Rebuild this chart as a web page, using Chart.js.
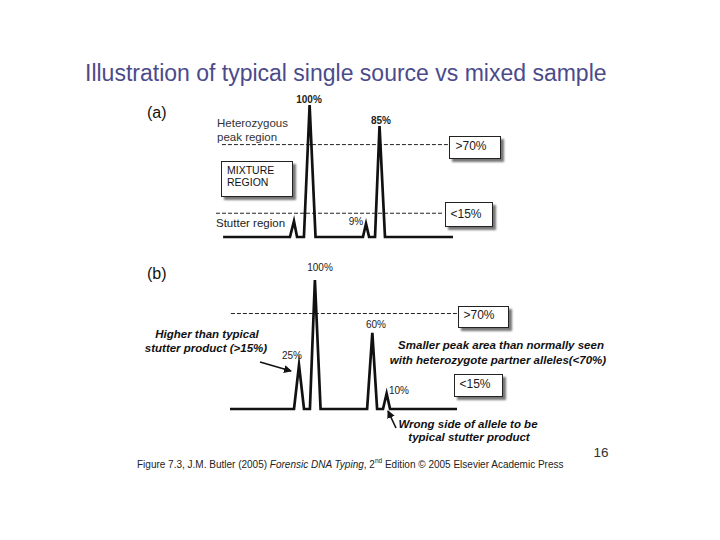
<!DOCTYPE html>
<html>
<head>
<meta charset="utf-8">
<script src="https://cdn.jsdelivr.net/npm/chart.js@4.4.1/dist/chart.umd.min.js"></script>
<style>
  body { margin: 0; background: #fff; font-family: "Liberation Sans", Arial, sans-serif; }
  #page { position: relative; width: 720px; height: 540px; overflow: hidden; }
  canvas { position: absolute; }
  .t { position: absolute; white-space: nowrap; line-height: 1; transform: translate(-50%, -50%); color: #1a1a1a; }
  .l { transform: translate(0, -50%); }
  .box { position: absolute; background: #fff; border: 1px solid #222; box-shadow: 3px 3px 2px #777; }
  .note { font-weight: bold; font-style: italic; font-size: 11.5px; color: #111; }
  .pct { font-size: 10px; color: #222; }
  svg { position: absolute; left: 0; top: 0; }
</style>
</head>
<body>
<div id="page">
  <div class="t l" style="left:85px;top:73px;font-size:23px;color:#4b4b8b;">Illustration of typical single source vs mixed sample</div>

  <!-- panel (a) -->
  <div class="t l" style="left:147px;top:113px;font-size:16px;color:#111;">(a)</div>
  <div class="t l" style="left:217px;top:124px;font-size:11.5px;color:#333;">Heterozygous</div>
  <div class="t l" style="left:217px;top:138px;font-size:11.5px;color:#333;">peak region</div>
  <div class="box" style="left:221px;top:161px;width:70px;height:34px;"></div>
  <div class="t l" style="left:227px;top:170px;font-size:10.5px;color:#111;">MIXTURE</div>
  <div class="t l" style="left:227px;top:182px;font-size:10.5px;color:#111;">REGION</div>
  <div class="t l" style="left:216px;top:224px;font-size:11.5px;color:#222;">Stutter region</div>
  <div class="box" style="left:449px;top:136px;width:50px;height:21px;"></div>
  <div class="t" style="left:471px;top:146px;font-size:12px;">&gt;70%</div>
  <div class="box" style="left:445px;top:202px;width:46px;height:23px;"></div>
  <div class="t" style="left:466px;top:214px;font-size:12px;">&lt;15%</div>
  <div class="t pct" style="left:309px;top:100px;font-weight:bold;">100%</div>
  <div class="t pct" style="left:381px;top:121px;font-weight:bold;">85%</div>
  <div class="t pct" style="left:356px;top:222px;">9%</div>

  <!-- panel (b) -->
  <div class="t l" style="left:147px;top:274px;font-size:16px;color:#111;">(b)</div>
  <div class="box" style="left:458px;top:306px;width:49px;height:20px;"></div>
  <div class="t" style="left:479px;top:315px;font-size:12px;">&gt;70%</div>
  <div class="box" style="left:454px;top:374px;width:47px;height:21px;"></div>
  <div class="t" style="left:475px;top:384px;font-size:12px;">&lt;15%</div>
  <div class="t pct" style="left:320px;top:268px;">100%</div>
  <div class="t pct" style="left:376px;top:325px;">60%</div>
  <div class="t pct" style="left:292px;top:356px;">25%</div>
  <div class="t pct" style="left:399px;top:391px;">10%</div>
  <div class="t note" style="left:207px;top:335px;">Higher than typical</div>
  <div class="t note" style="left:206px;top:349px;">stutter product (&gt;15%)</div>
  <div class="t note" style="left:501px;top:346px;">Smaller peak area than normally seen</div>
  <div class="t note" style="left:498px;top:361px;">with heterozygote partner alleles(&lt;70%)</div>
  <div class="t note" style="left:468px;top:425px;">Wrong side of allele to be</div>
  <div class="t note" style="left:469px;top:438px;">typical stutter product</div>

  <div class="t" style="left:601px;top:453px;font-size:13.5px;color:#333;">16</div>
  <div class="t l" style="left:137px;top:464px;font-size:10px;color:#222;">Figure 7.3, J.M. Butler (2005) <i>Forensic DNA Typing</i>, 2<sup style="font-size:6.5px;">nd</sup> Edition © 2005 Elsevier Academic Press</div>

  <svg width="720" height="540">
    <defs>
      <marker id="head" markerWidth="8" markerHeight="8" refX="7" refY="4" orient="auto" markerUnits="userSpaceOnUse">
        <path d="M0,0 L8,4 L0,8 z" fill="#111"/>
      </marker>
    </defs>
    <line x1="260" y1="362" x2="291" y2="371" stroke="#111" stroke-width="1.6" marker-end="url(#head)"/>
    <line x1="396" y1="428" x2="388" y2="411" stroke="#111" stroke-width="1.6" marker-end="url(#head)"/>
  </svg>

  <canvas id="chartA"></canvas>
  <canvas id="chartB"></canvas>
</div>

<script>
"use strict";

/* ---------------- DATA (x: arbitrary size units 0-100, y: % of tallest peak) ---------------- */

// (a) typical single source: stutter, allele 1, stutter, allele 2
const aTraceX = [3, 31.2, 32.9, 34.2, 37.1, 39.5, 42.0, 62.0, 63.3, 64.6, 67.1, 69.0, 71.3, 100];
const aTraceY = [0, 0, 12, 0, 0, 100, 0, 0, 10, 0, 0, 84, 0, 0];
const aThreshY = [70, 18];
const aThreshFrom = [2.5, 0];
const aThreshTo = [97.9, 96.2];

// (b) mixed sample
const bTraceX = [0, 28.2, 30.4, 32.6, 35.2, 37.4, 39.9, 60.4, 62.7, 64.8, 67.4, 69.0, 70.5, 100];
const bTraceY = [0, 0, 34, 0, 0, 100, 0, 0, 59, 0, 0, 12, 0, 0];
const bThreshY = [74];
const bThreshFrom = [0.4];
const bThreshTo = [100];

/* ---------------- CHARTS ---------------- */

const PAD = 12;

function makePanel(id, area, xs, ys, thY, thFrom, thTo) {
  const canvas = document.getElementById(id);
  canvas.width = area.w + PAD * 2;
  canvas.height = area.h + PAD * 2;
  canvas.style.left = (area.x - PAD) + "px";
  canvas.style.top = (area.y - PAD) + "px";

  const datasets = [{
    data: xs.map((x, i) => ({ x, y: ys[i] })),
    borderColor: "#111",
    borderWidth: 2.7,
    borderJoinStyle: "miter",
    clip: false,
  }];

  thY.forEach((y, i) => {
    datasets.push({
      data: [{ x: thFrom[i], y }, { x: thTo[i], y }],
      borderColor: "#222",
      borderWidth: 1,
      borderDash: [4, 2],
      clip: false,
    });
  });

  return new Chart(canvas, {
    type: "scatter",
    data: { datasets },
    options: {
      responsive: false,
      animation: false,
      showLine: true,
      elements: { point: { radius: 0 }, line: { tension: 0 } },
      layout: { padding: PAD },
      plugins: { legend: { display: false }, tooltip: { enabled: false } },
      scales: {
        x: { type: "linear", min: 0, max: 100, display: false },
        y: { min: 0, max: 100, display: false },
      },
    },
  });
}

makePanel("chartA", { x: 216, y: 105, w: 237, h: 132 }, aTraceX, aTraceY, aThreshY, aThreshFrom, aThreshTo);
makePanel("chartB", { x: 230, y: 280, w: 227, h: 129 }, bTraceX, bTraceY, bThreshY, bThreshFrom, bThreshTo);
</script>
</body>
</html>
